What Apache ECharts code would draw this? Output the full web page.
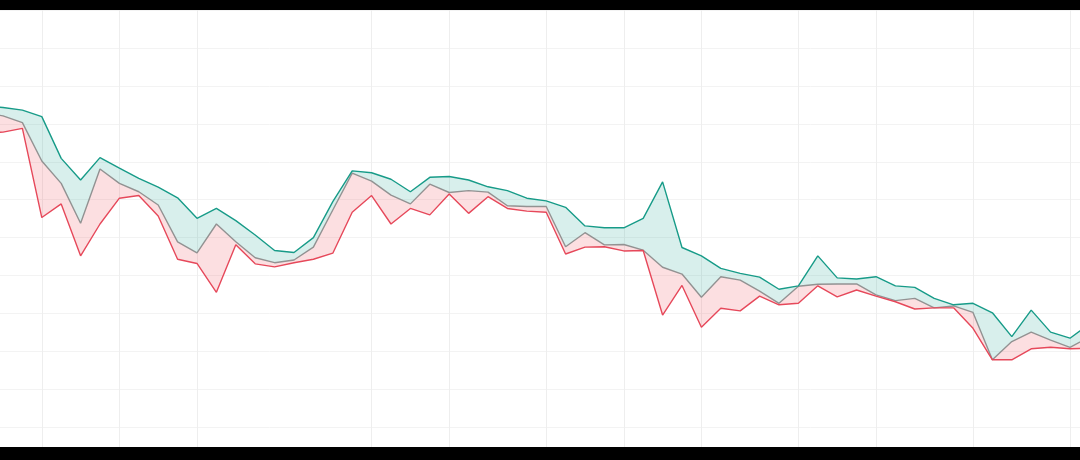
<!DOCTYPE html>
<html>
<head>
<meta charset="utf-8">
<script src="https://cdn.jsdelivr.net/npm/echarts@6/dist/echarts.min.js"></script>
<style>
html,body{margin:0;padding:0;background:#000;width:1080px;height:460px;overflow:hidden;position:relative}
#c{position:absolute;left:0;top:0;width:1080px;height:460px;background:#fff}
.bar{position:absolute;left:0;width:1080px;background:#000;z-index:5}
</style>
</head>
<body>
<div id="c"></div>
<div class="bar" style="top:0;height:10px"></div>
<div class="bar" style="top:447px;height:13px"></div>
<script>
// weekly sample index (the visible window is a zoomed-in part of a longer series)
const weeks = [];
for (let k = -1; k <= 56; k++) weeks.push(String(k));

const high = [94.7,94.3,93.6,91.9,80.9,75.2,81.1,78.3,75.6,73.3,70.5,65.1,67.7,64.5,60.7,56.6,56.1,60.0,69.5,77.6,
  77.1,75.4,72.1,75.9,76.1,75.2,73.4,72.4,70.4,69.7,68.0,63.1,62.6,62.6,65.1,74.7,57.4,55.2,51.9,50.6,
  49.6,46.4,47.3,55.2,49.4,49.1,49.7,47.3,46.9,44.0,42.3,42.7,40.2,33.9,40.9,35.1,33.5,37.2];

const mid = [92.9,92.1,90.3,80.2,74.3,63.8,78.1,74.3,72.1,68.6,58.9,56.0,63.6,58.9,54.7,53.4,54.1,57.5,67.3,77.0,
  74.9,71.2,68.9,74.1,71.9,72.4,72.0,68.4,68.2,68.2,57.6,61.3,58.1,58.2,56.7,52.2,50.4,44.3,49.7,48.8,
  45.9,42.7,47.2,47.7,47.8,47.8,44.9,43.4,44.0,41.5,42.0,40.3,27.8,32.6,35.1,33.0,31.1,33.8];

const low = [87.6,87.8,88.8,65.3,68.9,55.2,63.6,70.4,71.1,65.7,54.3,53.2,45.6,58.1,53.1,52.3,53.4,54.3,55.9,66.7,
  71.1,63.6,67.7,66.0,71.5,66.4,70.8,67.7,67.0,66.7,55.7,57.5,57.6,56.5,56.6,39.6,47.4,36.4,41.4,40.7,
  44.6,42.3,42.7,47.3,44.4,46.2,44.6,43.1,41.2,41.5,41.5,36.1,27.8,27.8,30.7,31.1,30.7,30.9];

// week indices where a month starts (vertical grid lines)
const monthStarts = [2,6,10,19,23,28,32,36,41,45,50,55];

const midBand = mid.map((v,i)=>+(v-low[i]).toFixed(2));
const highBand = high.map((v,i)=>+(v-mid[i]).toFixed(2));

const chart = echarts.init(document.getElementById('c'), null, {renderer:'canvas'});
chart.setOption({
  animation:false,
  backgroundColor:'#ffffff',
  grid:{left:-16.4, top:10, width:1105.8, height:455.3, containLabel:false, outerBoundsMode:'none'},
  xAxis:{
    type:'category', data:weeks, boundaryGap:false,
    axisLine:{show:false}, axisLabel:{show:false}, axisTick:{show:false},
    splitLine:{show:true, interval:(idx, val)=>monthStarts.includes(+val),
      lineStyle:{color:'#eeeeee', width:1}}
  },
  yAxis:{
    type:'value', min:0, max:120, interval:10,
    axisLine:{show:false}, axisLabel:{show:false}, axisTick:{show:false},
    splitLine:{show:true, lineStyle:{color:'#f3f3f3', width:1}}
  },
  series:[
    {type:'line', name:'low', stack:'band', data:low, showSymbol:false,
     lineStyle:{color:'#e6485a', width:1.4}, z:3},
    {type:'line', name:'mid', stack:'band', data:midBand, showSymbol:false,
     lineStyle:{color:'#929292', width:1.4},
     areaStyle:{color:'rgba(239,83,96,0.27)'}, z:2},
    {type:'line', name:'high', stack:'band', data:highBand, showSymbol:false,
     lineStyle:{color:'#179b88', width:1.4},
     areaStyle:{color:'rgba(38,166,150,0.26)'}, z:2}
  ]
});
</script>
</body>
</html>
